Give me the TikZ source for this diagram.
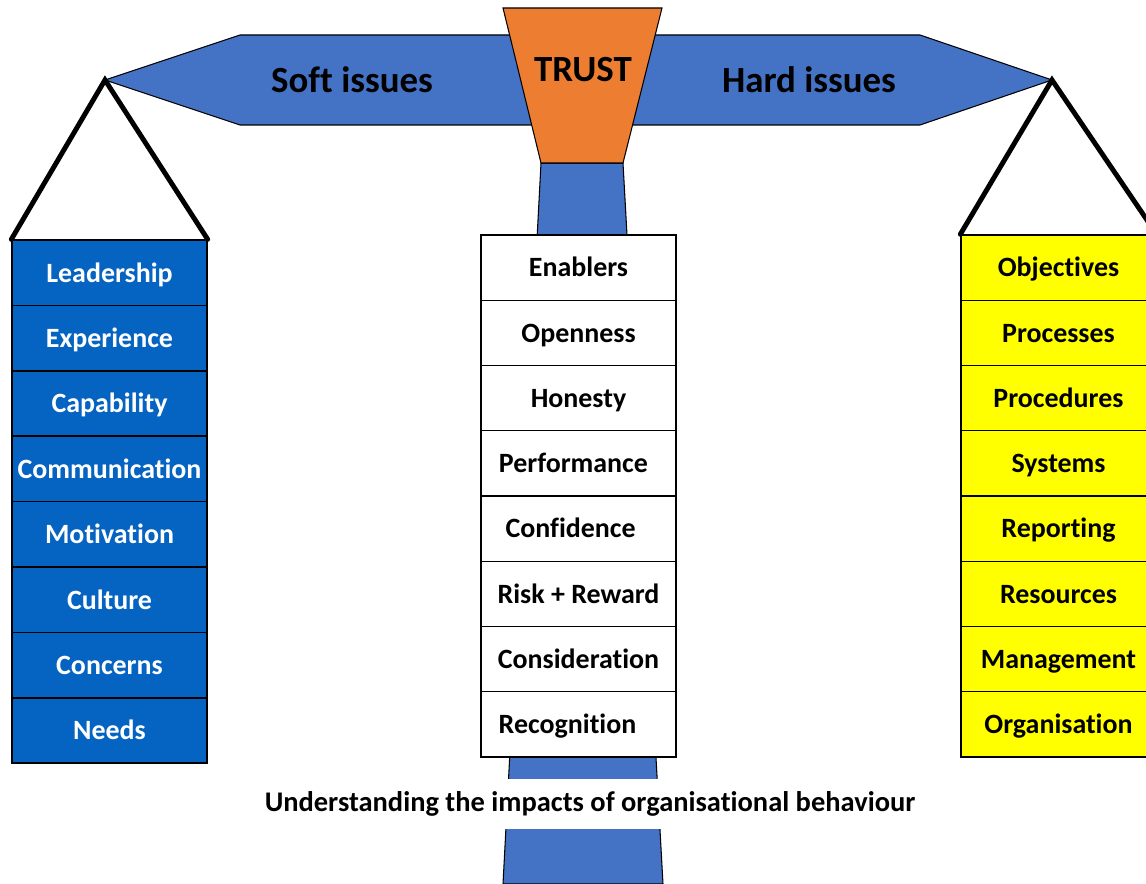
\documentclass[tikz,border=0pt]{standalone}
\usepackage{fontspec}
\setmainfont{Carlito}[Ligatures=NoCommon]
\usepackage{tikz}
\definecolor{beamblue}{RGB}{68,114,196}
\definecolor{trustorange}{RGB}{237,125,49}
\definecolor{softblue}{RGB}{5,99,193}
\definecolor{hardyellow}{RGB}{255,255,0}

\begin{document}
\begin{tikzpicture}[x=0.02cm,y=-0.02cm,
    cell/.style={draw=black,line width=0.8pt,minimum width=3.9cm,minimum height=1.305cm,
      inner sep=0pt,text height=12.6pt,text depth=2pt,font=\fontsize{15.9}{18}\selectfont\bfseries},
    softcell/.style={cell,fill=softblue,text=white},
    midcell/.style={cell,fill=white},
    hardcell/.style={cell,fill=hardyellow},
    hanger/.style={line width=2.8pt,line cap=round},
    beamtext/.style={font=\fontsize{21}{24}\selectfont\bfseries}]
    \useasboundingbox (0,0) rectangle (1146,884);
    \clip (0,0) rectangle (1146,884);

    % Draw the stem of the balance
    \filldraw[fill=beamblue,draw=black,line width=0.6pt] (541,163) -- (623,163) -- (663,884) -- (503,884) -- cycle;

    % Draw the beam
    \filldraw[fill=beamblue,draw=black,line width=0.6pt] (105,80) -- (240,35) -- (920,35) -- (1052,80) -- (920,125) -- (240,125) -- cycle;
    \node[beamtext] (soft) at (352,80) {Soft issues};
    \node[beamtext] (hard) at (809,80) {Hard issues};

    % Draw the centre piece
    \filldraw[fill=trustorange,draw=black,line width=0.6pt] (503,8) -- (662,8) -- (623,163) -- (541,163) -- cycle;
    \node[beamtext] (trust) at (583,70) {TRUST};

    % Pivots of the two pans
    \coordinate (softpivot) at (105,80);
    \coordinate (hardpivot) at (1052,80);

    % Left pan
    \foreach \txt [count=\i] in {Leadership,Experience,Capability,Communication,Motivation,Culture,Concerns,Needs}
      \node[softcell] (s\i) at (109.5,{240+65.4*(\i-0.5)}) {\txt};

    % Middle column
    \foreach \txt/\pad [count=\i] in {Enablers/0,Openness/0,Honesty/0,Performance/5.7,Confidence/9,Risk + Reward/0,Consideration/0,Recognition/12.5}
      \node[midcell] (m\i) at (578.5,{235+65.25*(\i-0.5)}) {\txt\hspace*{\pad pt}};

    % Right pan
    \foreach \txt [count=\i] in {Objectives,Processes,Procedures,Systems,Reporting,Resources,Management,Organisation}
      \node[hardcell] (h\i) at (1058.5,{235+65.25*(\i-0.5)}) {\txt};

    % Hang the pans from the beam
    \draw[hanger] (s1.north west) -- (softpivot) -- (s1.north east);
    \draw[hanger] (h1.north west) -- (hardpivot) -- (h1.north east);

    % Caption across the stem
    \node[fill=white,minimum height=1.02cm,inner xsep=2pt,font=\fontsize{16.2}{19}\selectfont\bfseries] (caption) at (590,804) {Understanding the impacts of organisational behaviour};
\end{tikzpicture}
\end{document}
